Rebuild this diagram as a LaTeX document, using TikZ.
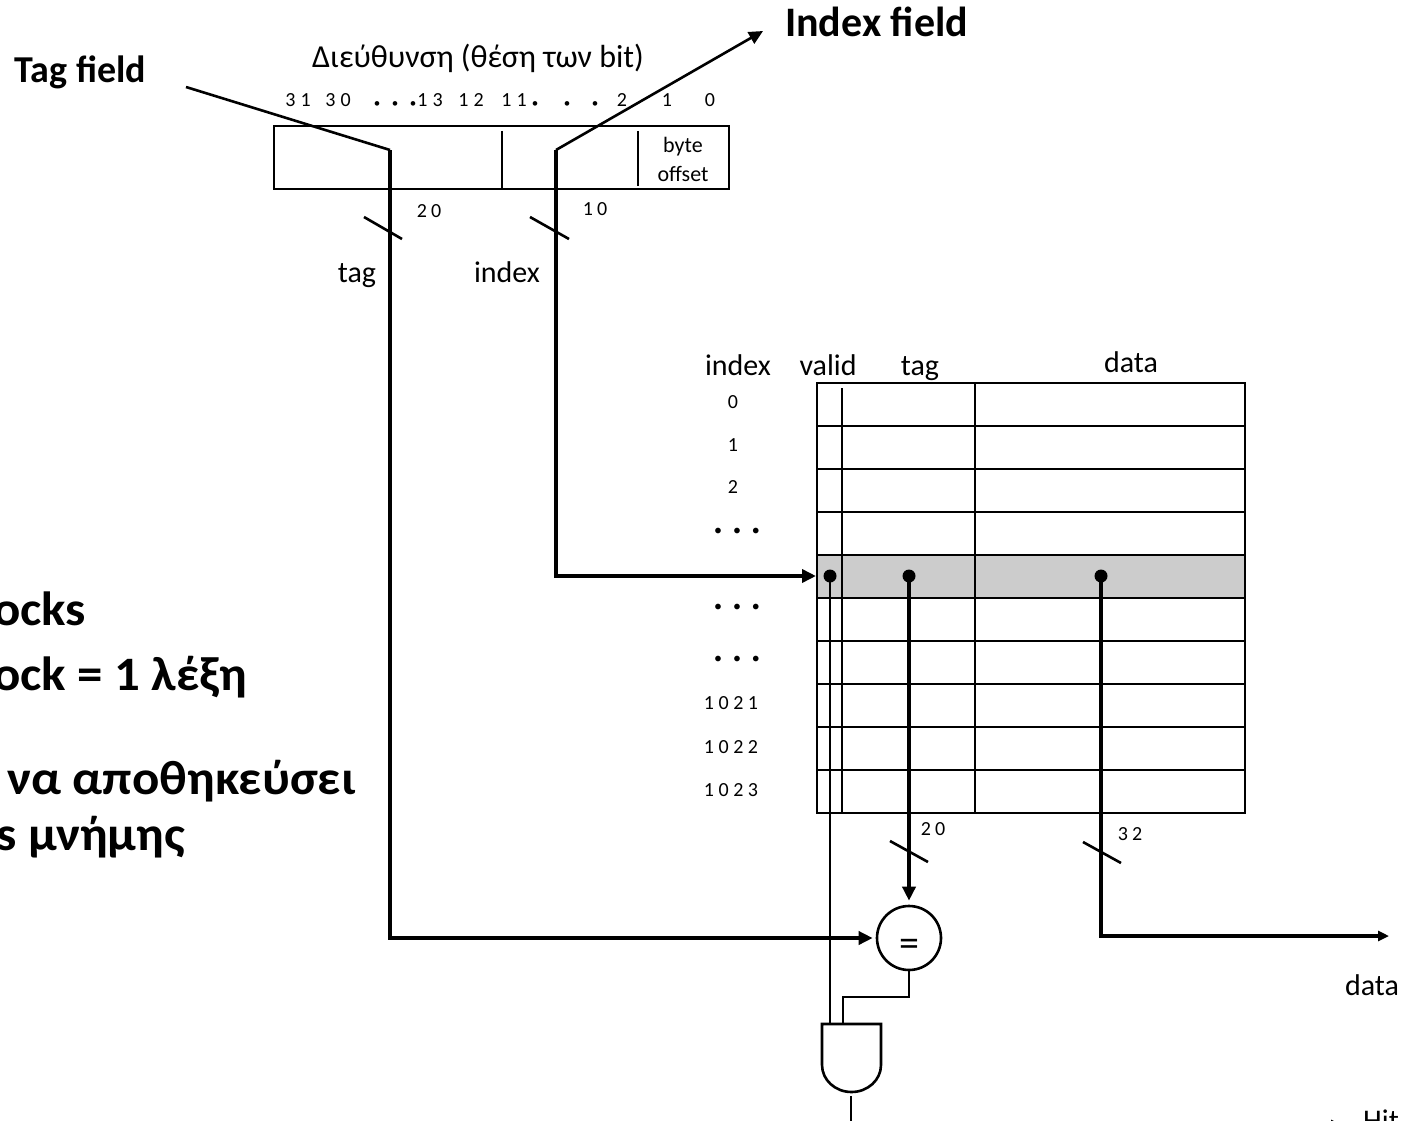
\documentclass[tikz,border=0pt]{standalone}
\usepackage{fontspec}
\setmainfont{Carlito}
\usetikzlibrary{arrows.meta}
\begin{document}
\begin{tikzpicture}[x=1pt,y=-1pt,
  boxline/.style={line width=2.8pt},
  wire/.style={line width=2.6pt},
  bus/.style={line width=4.5pt},
  tip/.style={-{Triangle[length=14pt,width=13pt]}},
  smalltip/.style={-{Triangle[length=11pt,width=10pt]}},
  lbl/.style={font=\fontsize{30}{36}\selectfont, inner sep=0pt},
  numlbl/.style={font=\fontsize{20}{24}\selectfont, inner sep=0pt},
  idxlbl/.style={font=\fontsize{20}{24}\selectfont, inner sep=0pt},
  dotrow/.style={font=\fontsize{16}{20}\selectfont, inner sep=0pt},
  boldlbl/.style={font=\bfseries\fontsize{38}{44}\selectfont, inner sep=0pt},
  sidelbl/.style={font=\bfseries\fontsize{48}{54}\selectfont, inner sep=0pt, anchor=base west, xscale=1.06},
  bitdot/.style={font=\fontsize{13}{15}\selectfont, inner sep=0pt}
]
\useasboundingbox (0,0) rectangle (1402,1121);

% ---------- titles ----------
\node[boldlbl, anchor=base] (tagfield) at (80.5,83) {Tag field};
\node[boldlbl, font=\bfseries\fontsize{42}{48}\selectfont, anchor=base west] (indexfield) at (785,37) {Index field};
\node[lbl, font=\fontsize{32}{38}\selectfont, anchor=base] (addr) at (478,68) {Διεύθυνση (θέση των bit)};

% bit numbers
\node[numlbl, anchor=base] (b31) at (298,107) {3\hspace{5pt}1};
\node[numlbl, anchor=base] (b30) at (338,107) {3\hspace{5pt}0};
\node[bitdot] (d1) at (377,105) {•};
\node[bitdot] (d2) at (395,105) {•};
\node[bitdot] (d3) at (413,105) {•};
\node[numlbl, anchor=base] (b13) at (430,107) {1\hspace{5pt}3};
\node[numlbl, anchor=base] (b12) at (471,107) {1\hspace{5pt}2};
\node[numlbl, anchor=base] (b11) at (514,107) {1\hspace{5pt}1};
\node[bitdot] (d4) at (535,105) {•};
\node[bitdot] (d5) at (567,105) {•};
\node[bitdot] (d6) at (595,105) {•};
\node[numlbl, anchor=base] (b2) at (622,107) {2};
\node[numlbl, anchor=base] (b1) at (667,107) {1};
\node[numlbl, anchor=base] (b0) at (710,107) {0};

% ---------- address box ----------
\draw[boxline] (274,126) rectangle (729,189);
\draw[boxline] (502,131) -- (502,188);
\draw[boxline] (638,131) -- (638,186);
\node[idxlbl, font=\fontsize{22}{24}\selectfont, anchor=base] (byte) at (683,153) {byte};
\node[idxlbl, font=\fontsize{22}{24}\selectfont, anchor=base] (offset) at (683,181) {offset};

\coordinate (tagsrc) at (390,150);
\coordinate (idxsrc) at (556,150);
\coordinate (tfend) at (186,87);
\coordinate (ifend) at (763,31);

\draw[wire] (tfend) -- (tagsrc);
\draw[wire, tip] (idxsrc) -- (ifend);

\node[numlbl, anchor=base] (w20a) at (429,217) {2\hspace{4pt}0};
\node[numlbl, anchor=base] (w10) at (595,215) {1\hspace{4pt}0};
\draw[wire] (364,217) -- (402,239);
\draw[wire] (530,217) -- (569,239);
\node[lbl, anchor=base] (taglbl) at (357,282) {tag};
\node[lbl, anchor=base] (indexlbl) at (507,282) {index};

% ---------- left side text (cut off) ----------
\node[sidelbl] (s1) at (-7,625) {ocks};
\node[sidelbl] (s2) at (-7,690) {ock = 1 λέξη};
\node[sidelbl] (s3) at (7,794) {να αποθηκεύσει};
\node[sidelbl] (s4) at (-4,850) {s μνήμης};

% ---------- cache table ----------
\node[lbl, anchor=base] (hindex) at (738,375) {index};
\node[lbl, anchor=base] (hvalid) at (828,375) {valid};
\node[lbl, anchor=base] (htag) at (920,375) {tag};
\node[lbl, anchor=base] (hdata) at (1131,372) {data};

\fill[gray!40] (817,555) rectangle (1245,598);
\foreach \yy in {426,469,512,555,598,641,684,727,770} {
  \draw[boxline] (817,\yy) -- (1245,\yy);
}
\draw[boxline] (817,383) rectangle (1245,813);
\draw[boxline] (842,388) -- (842,813);
\draw[boxline] (975,383) -- (975,813);

\node[idxlbl] (i0) at (733,402) {0};
\node[idxlbl] (i1) at (733,445) {1};
\node[idxlbl] (i2) at (733,487) {2};
\node[dotrow] (e1) at (737,532) {•\hspace{11pt}•\hspace{11pt}•};
\node[dotrow] (e2) at (737,608) {•\hspace{11pt}•\hspace{11pt}•};
\node[dotrow] (e3) at (737,660) {•\hspace{11pt}•\hspace{11pt}•};
\node[idxlbl] (i1021) at (731,703) {1 0 2 1};
\node[idxlbl] (i1022) at (731,747) {1 0 2 2};
\node[idxlbl] (i1023) at (731,790) {1 0 2 3};

\coordinate (vdot) at (830,576);
\coordinate (tdot) at (909,576);
\coordinate (ddot) at (1101,576);
\coordinate (rowin) at (816,576);

\draw[bus, tip] (idxsrc) |- (rowin);

% ---------- comparator and AND ----------
\node[circle, draw, line width=2.6pt, minimum size=64pt, inner sep=0pt] (eq) at (909,938) {};
\node[inner sep=0pt, font=\fontsize{40}{44}\selectfont, yshift=-10pt] (eqsign) at (eq.center) {=};

\coordinate (andin1) at (830,1024);
\coordinate (andin2) at (843,1024);
\coordinate (bend) at (843,997);
\coordinate (andout) at (851,1096);
\coordinate (dataout) at (1389,936);

\draw[wire] (822,1024) -- (881,1024) -- (881,1065) arc (0:180:29.5 and 27) -- cycle;

\draw[bus, tip, shorten >=3pt] (tagsrc) |- (eq.west);
\draw[bus, tip, shorten >=4pt] (tdot) -- (eq.north);
\draw[bus, smalltip] (ddot) |- (dataout);
\draw[wire] (vdot) -- (andin1);
\draw[wire] (eq.south) |- (bend) -- (andin2);
\draw[wire] (andout) -- ++(0,40);

\fill (vdot) circle (6.5);
\fill (tdot) circle (6.5);
\fill (ddot) circle (6.5);

\node[numlbl, anchor=base] (w20b) at (933,835) {2\hspace{4pt}0};
\draw[wire] (890,841) -- (928,862);
\node[numlbl, anchor=base] (w32) at (1130,840) {3\hspace{4pt}2};
\draw[wire] (1083,842) -- (1121,863);

\node[lbl, anchor=base] (dataoutlbl) at (1372,995) {data};

% ---------- Hit (cut off) ----------
\coordinate (hitsrc) at (1300,1125);
\coordinate (hittip) at (1342,1125);
\draw[wire, smalltip] (hitsrc) -- (hittip);
\node[lbl, anchor=base west] (hit) at (1363,1130) {Hit};
\end{tikzpicture}
\end{document}
